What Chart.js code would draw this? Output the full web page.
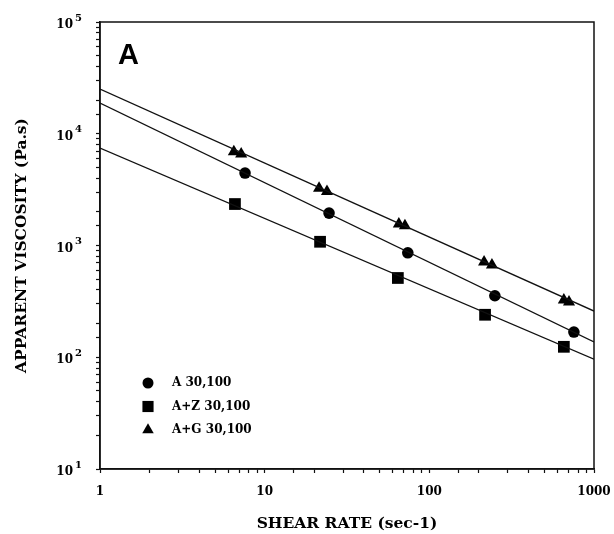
<!DOCTYPE html>
<html>
<head>
<meta charset="utf-8">
<script src="https://cdn.jsdelivr.net/npm/chart.js@4"></script>
<style>
body { margin: 0; background: #fff; }
#wrap { width: 614px; height: 534px; }
</style>
</head>
<body>
<div id="wrap"><canvas id="viscChart"></canvas></div>
<script>
// =========================================
// Data
// =========================================

const seriesNames = ["A 30,100", "A+Z 30,100", "A+G 30,100"];

const shearA = [7.6, 24.6, 74, 250, 755];
const viscA = [4450, 1950, 860, 355, 168];

const shearAZ = [6.6, 21.7, 64.4, 218, 656];
const viscAZ = [2350, 1080, 512, 240, 124];

const shearAG = [6.5, 7.2, 21.4, 23.9, 65.3, 71.1, 215, 240, 656, 705];
const viscAG = [6900, 6600, 3250, 3050, 1560, 1500, 711, 670, 325, 312];

// fitted power-law lines, end points at shear 1 and 1000
const fitShear = [1, 1000];
const fitA = [18800, 137];
const fitAZ = [7450, 96];
const fitAG = [25100, 259];

const xTicks = [1, 10, 100, 1000];
const yTicks = [10, 100, 1000, 10000, 100000];

// =========================================

const FONT = "'DejaVu Serif', serif";

function pairs(xs, ys) {
    return xs.map((x, i) => ({ x: x, y: ys[i] }));
}

function markerRadius(style) {
    if (style === "rect") return 8.3;
    if (style === "triangle") return 7;
    return 5.8;
}

function markSet(label, xs, ys, style) {
    return {
        label: label,
        data: pairs(xs, ys),
        showLine: false,
        pointStyle: style,
        pointRadius: markerRadius(style),
        backgroundColor: "#000",
        borderColor: "#000",
        borderWidth: 0
    };
}

function fitSet(ys) {
    return {
        label: "",
        data: pairs(fitShear, ys),
        showLine: true,
        pointRadius: 0,
        borderColor: "#111",
        borderWidth: 1.3
    };
}

// box, decade exponents, panel letter and legend
const decorations = {
    id: "decorations",
    afterDraw(chart) {
        const ctx = chart.ctx;
        const a = chart.chartArea;
        const yScale = chart.scales.y;
        ctx.save();
        ctx.strokeStyle = "#111";
        ctx.lineWidth = 1.5;
        ctx.strokeRect(a.left, a.top, a.right - a.left, a.bottom - a.top);

        ctx.fillStyle = "#000";
        ctx.font = "bold 10px " + FONT;
        ctx.textAlign = "left";
        ctx.textBaseline = "middle";
        yTicks.forEach(v => {
            const py = yScale.getPixelForValue(v);
            ctx.fillText(String(Math.round(Math.log10(v))), a.left - 25, py - 4);
        });

        ctx.font = "bold 29px 'Liberation Sans', Arial, sans-serif";
        ctx.textBaseline = "alphabetic";
        ctx.fillText("A", a.left + 18, a.top + 42);

        const styles = ["circle", "rect", "triangle"];
        ctx.font = "bold 12px " + FONT;
        ctx.textBaseline = "middle";
        styles.forEach((s, i) => {
            const y = 383 + i * 23.5;
            Chart.helpers.drawPoint(ctx, {
                pointStyle: s, radius: markerRadius(s) * 0.95, rotation: 0, borderWidth: 0
            }, a.left + 48, y);
            ctx.fillText(seriesNames[i], a.left + 72, y);
        });
        ctx.restore();
    }
};

new Chart(document.getElementById("viscChart"), {
    type: "scatter",
    data: {
        datasets: [
            fitSet(fitAG),
            fitSet(fitA),
            fitSet(fitAZ),
            markSet(seriesNames[0], shearA, viscA, "circle"),
            markSet(seriesNames[1], shearAZ, viscAZ, "rect"),
            markSet(seriesNames[2], shearAG, viscAG, "triangle")
        ]
    },
    options: {
        responsive: true,
        maintainAspectRatio: false,
        animation: false,
        layout: { padding: { top: 22, right: 20, left: 0, bottom: 0 } },
        plugins: {
            legend: { display: false },
            tooltip: { enabled: false }
        },
        scales: {
            x: {
                type: "logarithmic",
                min: xTicks[0],
                max: xTicks[xTicks.length - 1],
                afterFit(scale) {
                    scale.height = 65;
                    scale.paddingLeft = 0;
                    scale.paddingRight = 0;
                },
                border: { display: true, color: "#111", width: 1.5 },
                grid: { drawOnChartArea: false, tickLength: 4, color: "#111", tickWidth: 1.2 },
                ticks: {
                    autoSkip: false,
                    maxRotation: 0,
                    padding: 12,
                    color: "#000",
                    font: { family: FONT, size: 12, weight: "bold" },
                    callback: v => xTicks.includes(v) ? String(v) : ""
                },
                title: {
                    display: true,
                    text: "SHEAR RATE (sec-1)",
                    color: "#000",
                    font: { family: FONT, size: 15.5, weight: "bold" },
                    padding: { top: 0, bottom: 1 }
                }
            },
            y: {
                type: "logarithmic",
                min: yTicks[0],
                max: yTicks[yTicks.length - 1],
                afterFit(scale) {
                    scale.width = 100;
                    scale.paddingTop = 0;
                    scale.paddingBottom = 0;
                },
                border: { display: true, color: "#111", width: 1.5 },
                grid: { drawOnChartArea: false, tickLength: 4, color: "#111", tickWidth: 1.2 },
                ticks: {
                    autoSkip: false,
                    padding: 23,
                    labelOffset: 3,
                    color: "#000",
                    font: { family: FONT, size: 12, weight: "bold" },
                    callback: v => yTicks.includes(v) ? "10" : ""
                },
                title: {
                    display: true,
                    text: "APPARENT VISCOSITY (Pa.s)",
                    color: "#000",
                    font: { family: FONT, size: 15.5, weight: "bold" },
                    padding: { top: 13, bottom: 0 }
                }
            }
        }
    },
    plugins: [decorations]
});
</script>
</body>
</html>
